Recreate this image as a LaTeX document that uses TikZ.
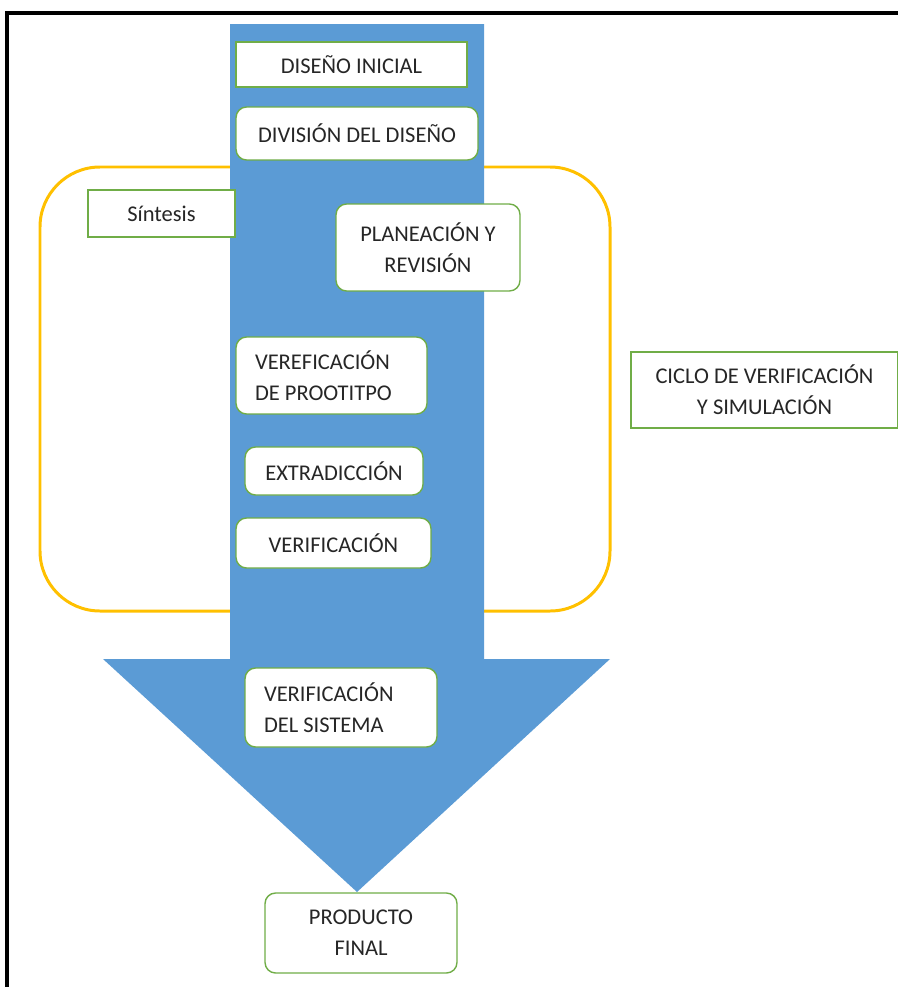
\documentclass[tikz,border=0pt]{standalone}
\usepackage{fontspec}
\setmainfont{Carlito}
\usetikzlibrary{positioning}

\definecolor{arrowblue}{HTML}{5B9BD5}
\definecolor{boxgreen}{HTML}{70AD47}
\definecolor{loopgold}{HTML}{FFC000}
\definecolor{txtgray}{HTML}{262626}

\tikzset{
    stage/.style={draw=boxgreen, line width=0.8pt, fill=white, text=txtgray, align=center, inner sep=2pt, font=\fontsize{12.8}{17.5}\selectfont},
    roundstage/.style={stage, rounded corners=6pt},
}

\begin{document}
\begin{tikzpicture}[x={(0.02cm,0)}, y={(0,-0.02cm)}]
    \useasboundingbox (0,0) rectangle (898,987);
    % outer frame
    \draw [line width=2.2pt] (7,987) -- (7,13) -- (898,13);
    % verification loop
    \draw [loopgold, line width=1.7pt, rounded corners=1.2cm] (40,167) rectangle (610,611);
    % big arrow
    \fill [arrowblue] (230,24) -- (484,24) -- (484,659) -- (610,659) -- (357,892) -- (103,659) -- (230,659) -- cycle;

    \node (inicial) [stage, minimum width=4.62cm, minimum height=0.9cm] at (351.5,64.5) {DISEÑO INICIAL};
    \node (division) [roundstage, minimum width=4.84cm, minimum height=1.06cm] at (357,133.5) {DIVISIÓN DEL DISEÑO};
    \node (sintesis) [stage, minimum width=2.94cm, minimum height=0.94cm] at (161.5,213.5) {Síntesis};
    \node (planeacion) [roundstage, minimum width=3.68cm, minimum height=1.74cm] at (428,247.5) {PLANEACIÓN Y\\REVISIÓN};
    \node (prototipo) [roundstage, align=flush left, text width=3.06cm, inner xsep=0.38cm, minimum height=1.54cm] at (331.5,375.5) {VEREFICACIÓN\\DE PROOTITPO};
    \node (extraccion) [roundstage, minimum width=3.56cm, minimum height=0.96cm] at (334,471) {EXTRADICCIÓN};
    \node (verificacion) [roundstage, minimum width=3.9cm, minimum height=1.0cm] at (333.5,543) {VERIFICACIÓN};
    \node (ciclo) [stage, minimum width=5.34cm, minimum height=1.52cm] at (764.5,390) {CICLO DE VERIFICACIÓN\\Y SIMULACIÓN};
    \node (sistema) [roundstage, align=flush left, text width=3.08cm, inner xsep=0.38cm, minimum height=1.58cm] at (341,707.5) {VERIFICACIÓN\\DEL SISTEMA};
    \node (producto) [roundstage, minimum width=3.84cm, minimum height=1.6cm] at (361,933) {PRODUCTO\\FINAL};
\end{tikzpicture}
\end{document}
